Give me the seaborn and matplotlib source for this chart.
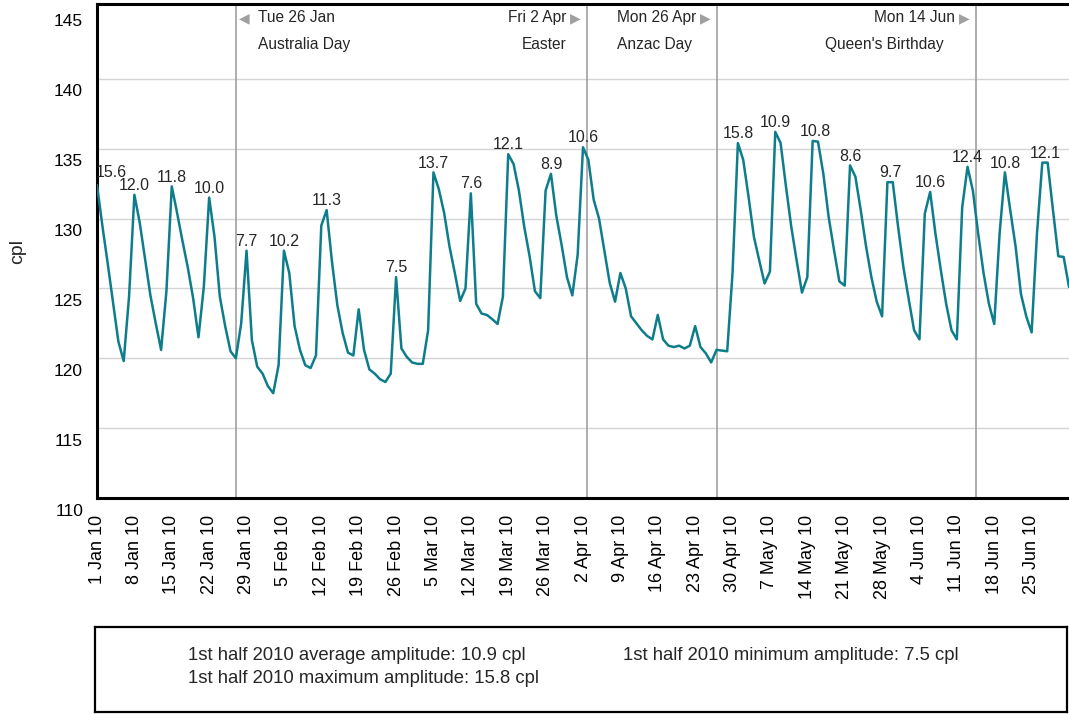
import pandas as pd
import numpy as np
import seaborn as sns
import matplotlib
matplotlib.use('Agg')
import matplotlib.pyplot as plt
import matplotlib.dates as mdates
from matplotlib.transforms import ScaledTranslation

# daily retail price, cents per litre, 1 Jan 2010 onwards
price_cpl = [
    132.4, 129.5, 126.8, 124.0, 121.2, 119.8, 124.4, 131.7, 129.7, 127.1,
    124.5, 122.5, 120.6, 124.8, 132.3, 130.4, 128.4, 126.5, 124.3, 121.5,
    125.1, 131.5, 128.7, 124.4, 122.3, 120.5, 120.0, 122.5, 127.7, 121.3,
    119.4, 118.9, 118.0, 117.5, 119.5, 127.7, 126.1, 122.3, 120.6, 119.5,
    119.3, 120.2, 129.5, 130.6, 126.9, 123.8, 121.8, 120.4, 120.2, 123.5,
    120.6, 119.2, 118.9, 118.5, 118.3, 118.9, 125.8, 120.7, 120.1, 119.7,
    119.6, 119.6, 122.0, 133.3, 132.1, 130.4, 128.0, 126.1, 124.1, 125.0,
    131.8, 123.9, 123.2, 123.1, 122.8, 122.45, 124.4, 134.6, 133.9, 132.0,
    129.4, 127.3, 124.8, 124.3, 132.0, 133.2, 130.2, 128.1, 125.8, 124.5,
    127.4, 135.1, 134.2, 131.35, 130.0, 127.7, 125.4, 124.05, 126.1, 125.0,
    123.0, 122.5, 122.0, 121.6, 121.35, 123.1, 121.35, 120.9, 120.8, 120.9,
    120.7, 120.9, 122.3, 120.8, 120.35, 119.7, 120.6, 120.55, 120.5, 126.1,
    135.4, 134.2, 131.55, 128.7, 127.0, 125.35, 126.2, 136.2, 135.4, 132.3,
    129.4, 127.0, 124.7, 125.8, 135.55, 135.5, 133.2, 130.1, 127.75, 125.5,
    125.2, 133.8, 133.0, 130.6, 128.0, 125.8, 124.05, 123.0, 132.6, 132.6,
    129.4, 126.5, 124.2, 122.0, 121.35, 130.35, 131.9, 128.9, 126.3, 123.9,
    122.0, 121.35, 130.8, 133.7, 132.0, 128.9, 126.1, 123.9, 122.45, 128.9,
    133.3, 130.6, 128.0, 124.6, 123.0, 121.85, 128.9, 134.0, 134.0, 130.6,
    127.3, 127.25, 125.1,
]
dates = pd.date_range('2010-01-01', periods=len(price_cpl), freq='D')

# cycle amplitudes shown above each peak
peak_dates = ['2010-01-01', '2010-01-08', '2010-01-15', '2010-01-22', '2010-01-29',
              '2010-02-05', '2010-02-13', '2010-02-26', '2010-03-05', '2010-03-12',
              '2010-03-19', '2010-03-27', '2010-04-02', '2010-05-01', '2010-05-08',
              '2010-05-15 12:00', '2010-05-22', '2010-05-29 12:00', '2010-06-06',
              '2010-06-13', '2010-06-20', '2010-06-27 12:00']
peak_labels = ['15.6', '12.0', '11.8', '10.0', '7.7', '10.2', '11.3', '7.5', '13.7',
               '7.6', '12.1', '8.9', '10.6', '15.8', '10.9', '10.8', '8.6', '9.7',
               '10.6', '12.4', '10.8', '12.1']

# public holidays
event_lines = ['2010-01-27 00:00', '2010-04-02 19:00', '2010-04-27 02:00', '2010-06-14 14:00']
event_dates = ['Tue 26 Jan', 'Fri 2 Apr', 'Mon 26 Apr', 'Mon 14 Jun']
event_names = ['Australia Day', 'Easter', 'Anzac Day', "Queen's Birthday"]

summary_text = ['1st half 2010 average amplitude: 10.9 cpl',
                '1st half 2010 maximum amplitude: 15.8 cpl',
                '1st half 2010 minimum amplitude: 7.5 cpl']

# style
sns.set_style('white')
plt.rcParams['font.family'] = ['Liberation Sans', 'DejaVu Sans']
line_col = '#0e7d8b'
grey = '#a0a0a0'

W, H = 1069, 714
fig = plt.figure(figsize=(W / 100, H / 100), dpi=100)
ax = fig.add_axes([97 / W, 1 - 498 / H, 1 - 97 / W, 494 / H])

df = pd.DataFrame({'date': dates, 'cpl': price_cpl})
sns.lineplot(data=df, x='date', y='cpl', ax=ax, color=line_col, linewidth=1.8, zorder=3)

ax.set_xlim(dates[0], dates[-1])
ax.set_ylim(110, 145.35)
ax.set_yticks(range(110, 146, 5))
ax.yaxis.grid(True, color='#d4d4d4', linewidth=1)
ax.xaxis.grid(False)
ax.tick_params(axis='y', direction='in', length=17, width=1.2, colors='#999999',
               labelcolor='black', pad=10, labelsize=12.5)
shift_down = ScaledTranslation(0, -4 / 72, fig.dpi_scale_trans)
for lab in ax.get_yticklabels():
    lab.set_va('top')
    lab.set_transform(lab.get_transform() + shift_down)
top_tick = ax.yaxis.get_major_ticks()[-1]
top_tick.tick1line.set_visible(False)
top_tick.gridline.set_visible(False)

week_ticks = pd.date_range('2010-01-01', '2010-06-25', freq='7D')
ax.set_xticks(week_ticks)
ax.set_xticklabels([f'{d.day} {d:%b %y}' for d in week_ticks], rotation=90, fontsize=13)
ax.tick_params(axis='x', direction='in', length=6, width=1, colors='#999999',
               labelcolor='black', pad=12)
ax.set_xlabel('')
ax.set_ylabel('cpl', fontsize=14, labelpad=20)

ax.spines['right'].set_visible(False)
for s in ['top', 'left', 'bottom']:
    ax.spines[s].set_linewidth(2.2)
    ax.spines[s].set_color('black')

# amplitude labels
xnum = mdates.date2num(dates)
for i, (d, lab) in enumerate(zip(peak_dates, peak_labels)):
    xd = mdates.date2num(pd.Timestamp(d))
    yv = np.interp(xd, xnum, price_cpl)
    ax.annotate(lab, xy=(xd, yv), xytext=(-1 if i == 0 else 0, 6 if i == 0 else 3.5),
                textcoords='offset points', ha='left' if i == 0 else 'center',
                va='baseline', fontsize=11.5, zorder=4)

# holiday markers
trans = ax.get_xaxis_transform()
name_dx = [16, -15, -18, -23]
for k, (d, top, name) in enumerate(zip(event_lines, event_dates, event_names)):
    xd = mdates.date2num(pd.Timestamp(d))
    ax.axvline(xd, color=grey, linewidth=1.2, zorder=2)
    if k == 0:
        ax.annotate('\u25c0', xy=(xd, 0.972), xycoords=trans, xytext=(2.5, 0),
                    textcoords='offset points', ha='left', va='center',
                    fontsize=10, color=grey)
        ax.annotate(top, xy=(xd, 0.972), xycoords=trans, xytext=(16, 0),
                    textcoords='offset points', ha='left', va='center', fontsize=11.2)
        ax.annotate(name, xy=(xd, 0.919), xycoords=trans, xytext=(name_dx[k], 0),
                    textcoords='offset points', ha='left', va='center', fontsize=11.2)
    else:
        ax.annotate('\u25b6', xy=(xd, 0.972), xycoords=trans, xytext=(-4.5, 0),
                    textcoords='offset points', ha='right', va='center',
                    fontsize=10, color=grey)
        ax.annotate(top, xy=(xd, 0.972), xycoords=trans, xytext=(-15, 0),
                    textcoords='offset points', ha='right', va='center', fontsize=11.2)
        ax.annotate(name, xy=(xd, 0.919), xycoords=trans, xytext=(name_dx[k], 0),
                    textcoords='offset points', ha='right', va='center', fontsize=11.2)

# summary box
bx = fig.add_axes([95 / W, 1 - 711.7 / H, 971.7 / W, 85 / H])
bx.set_xticks([])
bx.set_yticks([])
for s in bx.spines.values():
    s.set_linewidth(1.6)
    s.set_color('black')
bx.text(0.096, 0.667, summary_text[0], va='center', fontsize=13.3)
bx.text(0.096, 0.396, summary_text[1], va='center', fontsize=13.3)
bx.text(0.5437, 0.667, summary_text[2], va='center', fontsize=13.3)

fig.savefig('out.png', dpi=100)
